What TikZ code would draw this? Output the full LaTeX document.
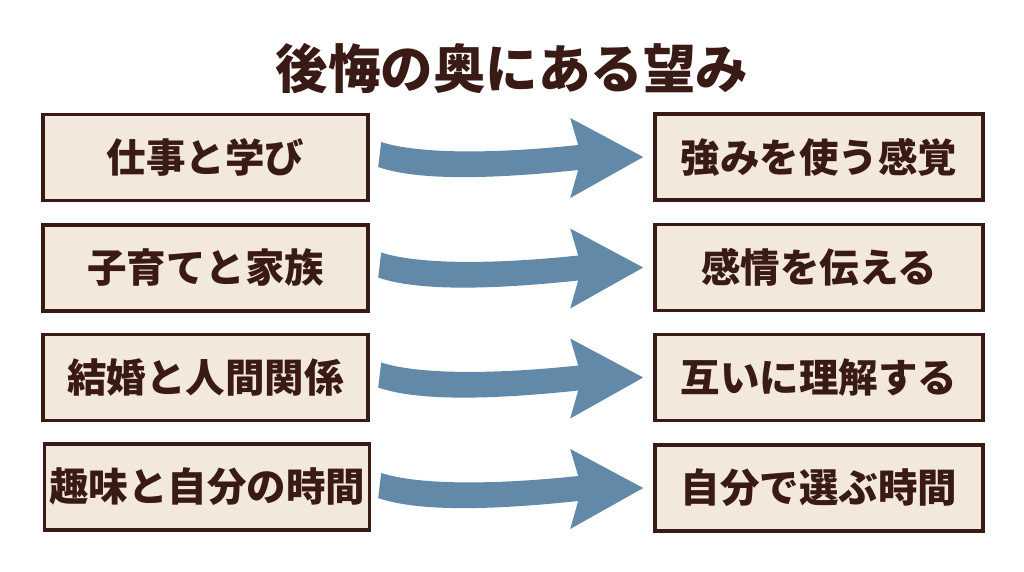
\documentclass[tikz,border=0pt]{standalone}
\usepackage{fontspec}
\newfontfamily\cjk{Noto Sans CJK JP}[BoldFont={Noto Sans CJK JP Black}]
\definecolor{ink}{HTML}{3A1A15}
\definecolor{boxfill}{HTML}{F2E9DC}
\definecolor{arrowblue}{HTML}{6389A9}
\tikzset{
  itembox/.style={draw=ink, line width=3.6pt, fill=boxfill, minimum height=86pt,
    inner sep=0pt, text=ink, font=\cjk\bfseries\fontsize{39.5}{40}\selectfont},
  leftbox/.style={itembox, minimum width=325pt},
  rightbox/.style={itembox, minimum width=328pt},
  bigarrow/.style={fill=arrowblue, draw=none},
  titletext/.style={text=ink, font=\cjk\bfseries\fontsize{52.5}{54}\selectfont}
}
\begin{document}
\begin{tikzpicture}[x=1pt,y=-1pt]
\useasboundingbox (0,0) rectangle (1024,572);
\fill[white] (0,0) rectangle (1024,572);
\node[titletext] (title) at (512,69) {後悔の奥にある望み};

\node[leftbox]  (L1) at (205.5,157.5) {仕事と学び};
\node[leftbox]  (L2) at (205.5,268)   {子育てと家族};
\node[leftbox]  (L3) at (205.5,377.5) {結婚と人間関係};
\node[leftbox]  (L4) at (207,487)   {趣味と自分の時間};
\node[rightbox] (R1) at (819,157)   {強みを使う感覚};
\node[rightbox] (R2) at (819,267.5) {感情を伝える};
\node[rightbox] (R3) at (819,377.5) {互いに理解する};
\node[rightbox] (R4) at (819,488)   {自分で選ぶ時間};

\foreach \i in {1,2,3,4}{
  \path[bigarrow, shift={(R\i.west)}, xshift=-10pt]
    (-262,-15) .. controls (-225,-3) and (-150,-3) .. (-65,-12)
    -- (-73,-39) -- (0,0) -- (-73,41) -- (-65,13)
    .. controls (-150,22) and (-225,24) .. (-265,10) -- cycle;
}
\end{tikzpicture}
\end{document}
